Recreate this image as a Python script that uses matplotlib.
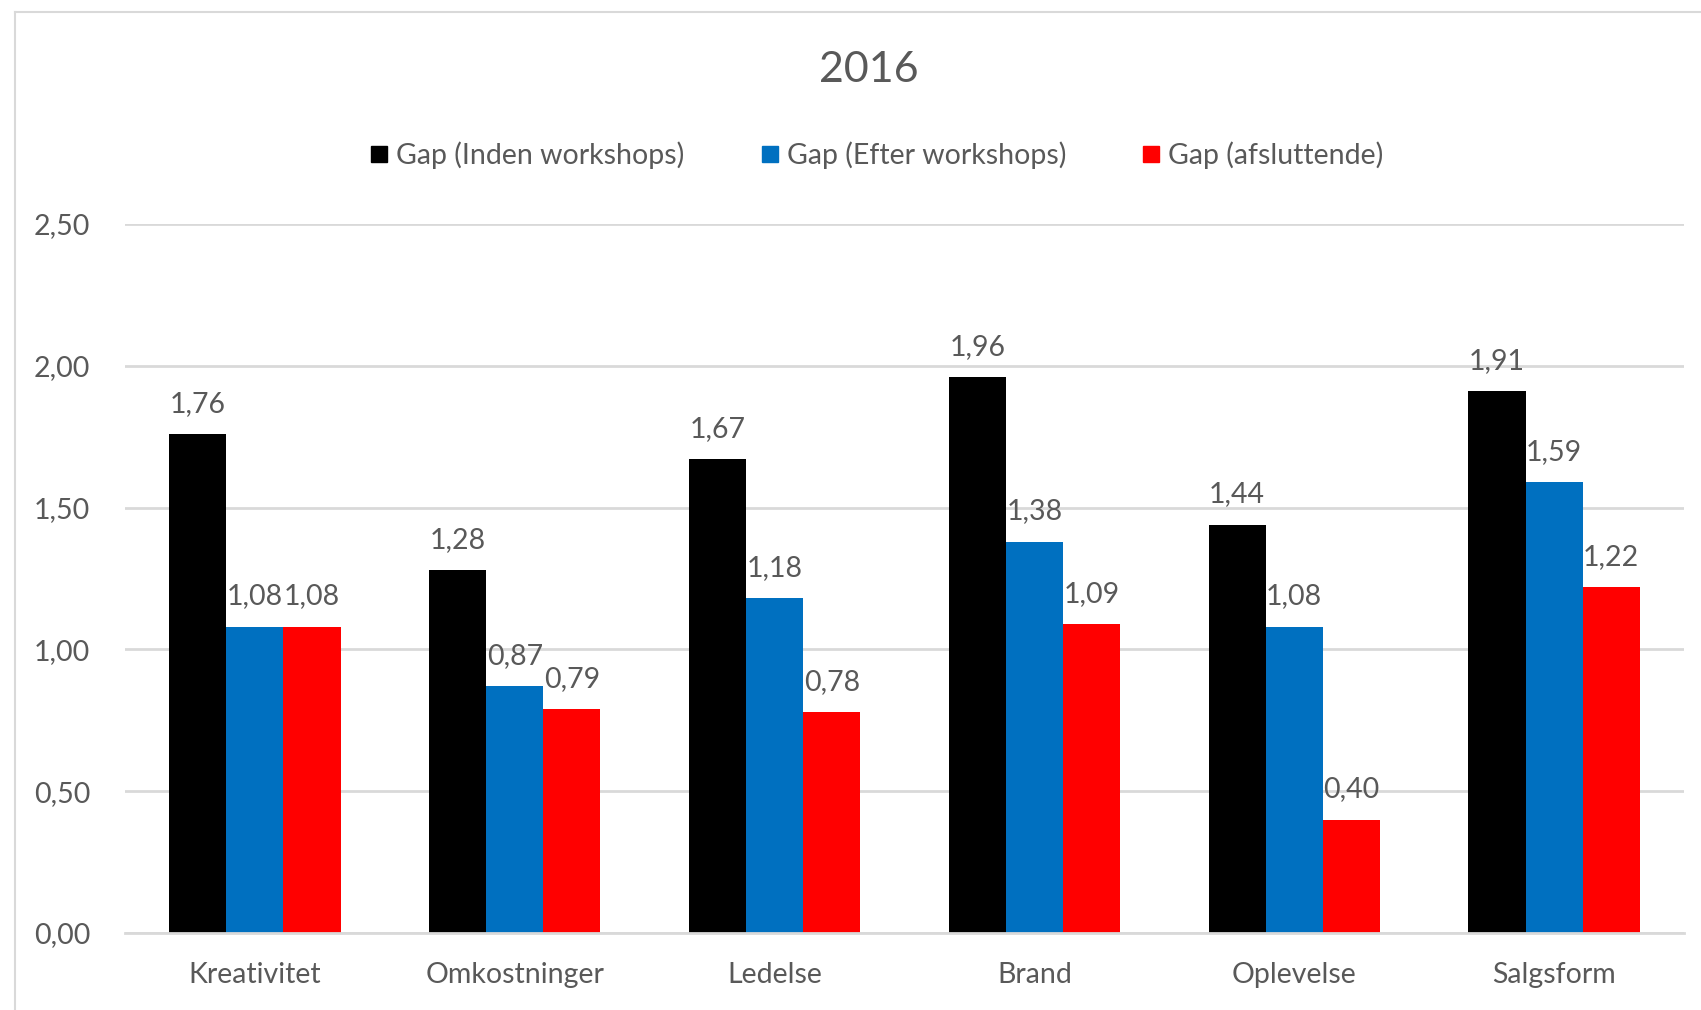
import numpy as np
import matplotlib
matplotlib.use("Agg")
import matplotlib.pyplot as plt
from matplotlib.lines import Line2D

plt.rcParams['font.family'] = ['Lato', 'DejaVu Sans']

# Data
categories = ['Kreativitet', 'Omkostninger', 'Ledelse', 'Brand', 'Oplevelse', 'Salgsform']
series_names = ['Gap (Inden workshops)', 'Gap (Efter workshops)', 'Gap (afsluttende)']
gap_inden = [1.76, 1.28, 1.67, 1.96, 1.44, 1.91]
gap_efter = [1.08, 0.87, 1.18, 1.38, 1.08, 1.59]
gap_afsl = [1.08, 0.79, 0.78, 1.09, 0.40, 1.22]
y_ticks = [0.0, 0.5, 1.0, 1.5, 2.0, 2.5]

colors = ['#000000', '#0070C0', '#FF0000']
text_col = '#595959'
grid_col = '#D9D9D9'
fs = 20.5

fig = plt.figure(figsize=(17.01, 10.10), dpi=100)
ax = fig.add_axes([125 / 1701, 1 - 933 / 1010, (1684 - 125) / 1701, (933 - 224) / 1010])

x = np.arange(len(categories))
width = 0.22
series = [gap_inden, gap_efter, gap_afsl]

for i, (vals, col, name) in enumerate(zip(series, colors, series_names)):
    pos = x + (i - 1) * width
    bars = ax.bar(pos, vals, width, color=col, label=name, zorder=3)
    for b, v in zip(bars, vals):
        ax.annotate(f'{v:.2f}'.replace('.', ','),
                    (b.get_x() + b.get_width() / 2, v),
                    xytext=(0, 16), textcoords='offset points',
                    ha='center', va='baseline', fontsize=fs, color=text_col)

ax.set_xlim(-0.5, len(categories) - 0.5)
ax.set_ylim(0, 2.5)
ax.set_yticks(y_ticks)
ax.set_yticklabels([f'{t:.2f}'.replace('.', ',') for t in y_ticks])
ax.set_xticks(x)
ax.set_xticklabels(categories)
ax.tick_params(axis='both', length=0, labelsize=fs, labelcolor=text_col)
ax.tick_params(axis='y', pad=25)
ax.tick_params(axis='x', pad=21)
ax.yaxis.grid(True, color=grid_col, linewidth=2, zorder=0)
for s in ['top', 'right', 'left']:
    ax.spines[s].set_visible(False)
ax.spines['bottom'].set_color(grid_col)
ax.spines['bottom'].set_linewidth(2)
ax.spines['bottom'].set_zorder(4)

# Title and legend
fig.text(869 / 1701, 1 - 70 / 1010, '2016', ha='center', va='center', fontsize=31, color=text_col)
handles = [Line2D([0], [0], marker='s', linestyle='none', markersize=12,
                  markerfacecolor=c, markeredgecolor=c) for c in colors]
fig.legend(handles, series_names, loc='center', bbox_to_anchor=(877 / 1701, 1 - 155 / 1010),
           ncol=3, frameon=False, fontsize=fs, labelcolor=text_col,
           handlelength=0.6, handletextpad=0.3, columnspacing=2.7)

# Chart area border (cropped on the right and bottom)
fig.add_artist(Line2D([15 / 1701, 15 / 1701], [0, 1 - 12 / 1010], transform=fig.transFigure,
                      color=grid_col, linewidth=1.5))
fig.add_artist(Line2D([15 / 1701, 1], [1 - 12 / 1010, 1 - 12 / 1010], transform=fig.transFigure,
                      color=grid_col, linewidth=1.5))

fig.savefig('out.png', dpi=100)
